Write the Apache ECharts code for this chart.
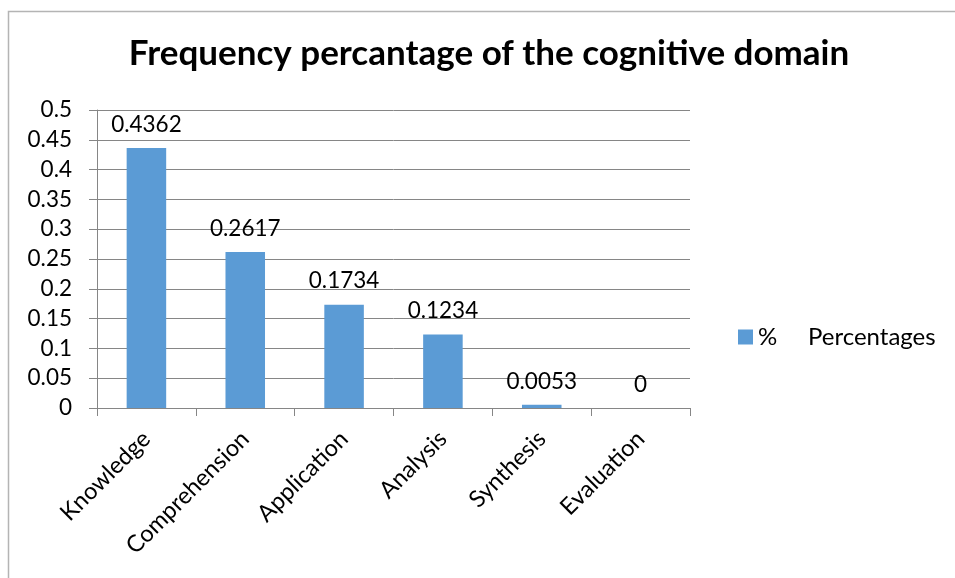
<!DOCTYPE html>
<html><head><meta charset="utf-8">
<script src="https://cdn.jsdelivr.net/npm/echarts@6/dist/echarts.min.js"></script>
<style>html,body{margin:0;padding:0;background:#fff}#c{width:955px;height:578px}</style>
</head><body><div id="c"></div>
<script>
const categories = ['Knowledge','Comprehension','Application','Analysis','Synthesis','Evaluation'];
const percentages = [0.4362, 0.2617, 0.1734, 0.1234, 0.0053, 0];
const seriesName = '%     Percentages';
const titleText = 'Frequency percantage of the cognitive domain';

const chart = echarts.init(document.getElementById('c'));
const F = 'Lato, "Open Sans", sans-serif';
chart.setOption({
  backgroundColor: '#fff',
  animation: false,
  graphic: [{type:'rect', shape:{x:8.5,y:11.5,width:1000,height:1000}, style:{fill:'none', stroke:'#b4b4b4', lineWidth:1.5}, silent:true}],
  title: {text: titleText, left: 484, textAlign: 'center', top: 31, textStyle:{fontFamily:F, fontWeight:'bold', fontSize:35, color:'#000'}},
  legend: {left: 733, top: 320, itemWidth: 15, itemHeight: 15, icon: 'rect', itemGap: 5,
    textStyle:{fontFamily:F, fontSize:24, color:'#000'}, data:[seriesName]},
  grid: {left: 97, right: 265, top: 110, bottom: 170},
  xAxis: {type:'category', data: categories,
    axisLine:{lineStyle:{color:'#868686'}},
    axisTick:{show:true, length:8, lineStyle:{color:'#868686'}},
    axisLabel:{rotate:45, margin:27, fontFamily:F, fontSize:23.5, color:'#000', interval:0}},
  yAxis: {type:'value', min:0, max:0.5, interval:0.05,
    axisLine:{show:true, lineStyle:{color:'#868686'}},
    axisTick:{show:true, length:8, lineStyle:{color:'#868686'}},
    splitLine:{lineStyle:{color:'#868686'}},
    axisLabel:{margin:25, fontFamily:F, fontSize:22.5, color:'#000', formatter: v => String(+v.toFixed(2))}},
  series: [{name: seriesName, type:'bar', data: percentages, barWidth:'40%',
    itemStyle:{color:'#5B9BD5'},
    label:{show:true, position:'top', distance:12, fontFamily:F, fontSize:22.5, color:'#000'}}]
});
</script></body></html>
